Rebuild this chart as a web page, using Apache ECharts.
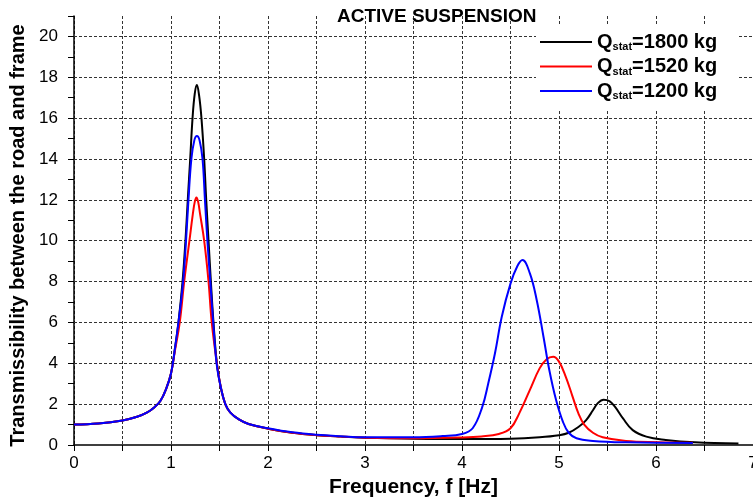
<!DOCTYPE html>
<html>
<head>
<meta charset="utf-8">
<script src="https://cdn.jsdelivr.net/npm/echarts@6/dist/echarts.min.js"></script>
<style>
html,body{margin:0;padding:0;background:#fff;}
#chart{width:753px;height:497px;}
</style>
</head>
<body>
<div id="chart"></div>
<script>
// ---- data ----
const titleText = 'ACTIVE SUSPENSION';
const xName = 'Frequency, f [Hz]';
const yName = 'Transmissibility between the road and frame';
const loads = ['1800', '1520', '1200'];
const colors = ['#000000', '#ff0000', '#0000ff'];
const gridY = [2, 4, 6, 8, 10, 12, 14, 16, 18, 20];

const fBlack = [0, 0.25, 0.5, 0.65, 0.75, 0.83, 0.89, 0.95, 1.0, 1.04, 1.077, 1.119, 1.149, 1.173, 1.198, 1.222, 1.245, 1.267, 1.29, 1.314, 1.342, 1.363, 1.387, 1.411, 1.438, 1.473, 1.51, 1.56, 1.61, 1.7, 1.8, 2.0, 2.25, 2.5, 2.75, 3.0, 3.5, 4.0, 4.5, 4.8, 5.0, 5.1, 5.2, 5.28, 5.35, 5.4, 5.46, 5.52, 5.58, 5.66, 5.76, 5.9, 6.1, 6.4, 6.85];
const vBlack = [1.0, 1.05, 1.2, 1.38, 1.58, 1.85, 2.15, 2.75, 3.5, 4.7, 6.0, 8.0, 10.0, 12.0, 14.0, 16.0, 17.2, 17.62, 17.1, 16.0, 14.0, 12.0, 10.0, 8.0, 6.0, 4.0, 2.9, 2.0, 1.6, 1.25, 1.03, 0.8, 0.6, 0.48, 0.41, 0.36, 0.31, 0.29, 0.31, 0.38, 0.48, 0.6, 0.88, 1.22, 1.7, 2.05, 2.22, 2.15, 1.85, 1.3, 0.73, 0.41, 0.25, 0.13, 0.07];

const fRed = [0, 0.25, 0.5, 0.65, 0.75, 0.83, 0.89, 0.95, 1.0, 1.04, 1.09, 1.136, 1.19, 1.225, 1.245, 1.262, 1.28, 1.3, 1.342, 1.387, 1.42, 1.473, 1.51, 1.56, 1.61, 1.7, 1.8, 2.0, 2.25, 2.5, 2.75, 3.0, 3.5, 4.0, 4.2, 4.38, 4.5, 4.59, 4.7, 4.8, 4.87, 4.94, 5.0, 5.07, 5.14, 5.2, 5.26, 5.35, 5.45, 5.69, 6.03, 6.38];
const vRed = [1.0, 1.05, 1.2, 1.38, 1.58, 1.85, 2.15, 2.75, 3.5, 4.6, 6.0, 8.0, 10.0, 11.3, 11.9, 12.12, 11.9, 11.3, 10.0, 8.0, 6.0, 4.0, 2.9, 2.0, 1.6, 1.25, 1.03, 0.8, 0.6, 0.48, 0.41, 0.36, 0.33, 0.37, 0.42, 0.54, 0.82, 1.55, 2.7, 3.75, 4.19, 4.32, 4.08, 3.34, 2.37, 1.55, 1.0, 0.6, 0.38, 0.2, 0.14, 0.11];

const fBlue = [0, 0.25, 0.5, 0.65, 0.75, 0.83, 0.89, 0.95, 1.0, 1.04, 1.077, 1.125, 1.155, 1.18, 1.21, 1.24, 1.267, 1.295, 1.325, 1.35, 1.375, 1.405, 1.435, 1.47, 1.51, 1.56, 1.61, 1.7, 1.8, 2.0, 2.25, 2.5, 2.75, 3.0, 3.5, 3.8, 4.0, 4.11, 4.21, 4.27, 4.34, 4.41, 4.5, 4.57, 4.624, 4.7, 4.77, 4.84, 4.9, 4.97, 5.04, 5.1, 5.18, 5.35, 5.69, 6.38];
const vBlue = [1.0, 1.05, 1.2, 1.38, 1.58, 1.85, 2.15, 2.75, 3.5, 4.7, 6.0, 8.0, 10.0, 12.0, 14.0, 14.9, 15.12, 14.9, 14.0, 12.0, 10.0, 8.0, 6.0, 4.0, 2.9, 2.0, 1.6, 1.25, 1.03, 0.82, 0.62, 0.5, 0.43, 0.38, 0.38, 0.44, 0.54, 0.82, 1.88, 3.0, 4.49, 6.28, 7.9, 8.75, 9.05, 8.4, 7.1, 5.3, 3.67, 2.2, 1.14, 0.6, 0.33, 0.2, 0.13, 0.1];

function pairs(f, v) { return f.map((x, i) => [x, v[i]]); }
const seriesData = [pairs(fBlack, vBlack), pairs(fRed, vRed), pairs(fBlue, vBlue)];

const FONT = 'Liberation Sans, Arial, sans-serif';
const chart = echarts.init(document.getElementById('chart'), null, {renderer: 'canvas'});

const series = loads.map((ld, i) => ({
  name: ld,
  type: 'line',
  data: seriesData[i],
  showSymbol: false,
  symbol: 'none',
  smooth: 0.4,
  lineStyle: {color: colors[i], width: 2},
  itemStyle: {color: colors[i]},
  z: 3 + i,
  markLine: i === 0 ? {
    silent: true,
    symbol: ['none', 'none'],
    label: {show: false},
    lineStyle: {color: '#333', width: 1, type: [3, 2]},
    data: gridY.map(y => ({yAxis: y})),
    z: 1
  } : undefined
}));

chart.setOption({
  animation: false,
  backgroundColor: '#fff',
  title: {
    text: titleText,
    left: 332, top: 2,
    textStyle: {fontFamily: FONT, fontSize: 19, fontWeight: 'bold', color: '#000'}
  },
  grid: {left: 74, right: 0, top: 16, bottom: 52, containLabel: false, outerBoundsMode: 'none'},
  legend: {
    orient: 'vertical',
    left: 536, top: 24,
    padding: [8, 20, 8, 4],
    itemGap: 4,
    itemWidth: 52, itemHeight: 2,
    icon: 'rect',
    backgroundColor: '#fff',
    z: 10,
    data: loads,
    formatter: function (n) { return '{q|Q}{s|stat}{q|=' + n + ' kg}'; },
    textStyle: {
      fontFamily: FONT, color: '#000',
      rich: {
        q: {fontFamily: FONT, fontSize: 20, fontWeight: 'bold', color: '#000', lineHeight: 21},
        s: {fontFamily: FONT, fontSize: 11, fontWeight: 'bold', color: '#000', lineHeight: 11, verticalAlign: 'bottom'}
      }
    }
  },
  xAxis: {
    type: 'value', min: 0, max: 7, interval: 1,
    name: xName, nameLocation: 'middle', nameGap: 31,
    nameTextStyle: {fontFamily: FONT, fontSize: 21, fontWeight: 'bold', color: '#000'},
    axisLine: {show: true, onZero: false, lineStyle: {color: '#000', width: 1.5}},
    axisTick: {show: true, inside: false, length: 6, lineStyle: {color: '#000', width: 1}},
    minorTick: {show: true, splitNumber: 2, length: 6, lineStyle: {color: '#000', width: 1}},
    axisLabel: {fontFamily: FONT, fontSize: 17, color: '#000', margin: 10},
    splitLine: {show: true, lineStyle: {color: '#333', width: 1, type: [3, 2]}},
    minorSplitLine: {show: true, lineStyle: {color: '#333', width: 1, type: [3, 2]}}
  },
  yAxis: {
    type: 'value', min: 0, max: 21, interval: 1,
    name: yName, nameLocation: 'middle', nameGap: 46, nameRotate: 90,
    nameTextStyle: {fontFamily: FONT, fontSize: 20, fontWeight: 'bold', color: '#000', padding: [0, 10, 0, 0]},
    axisLine: {show: true, onZero: false, lineStyle: {color: '#000', width: 1.5}},
    axisTick: {show: true, inside: false, length: 6, lineStyle: {color: '#000', width: 1}},
    axisLabel: {
      fontFamily: FONT, fontSize: 17, color: '#000', margin: 16,
      formatter: function (v) { return (v % 2 === 0 && v <= 20) ? String(v) : ''; }
    },
    splitLine: {show: false}
  },
  series: series
});
</script>
</body>
</html>
